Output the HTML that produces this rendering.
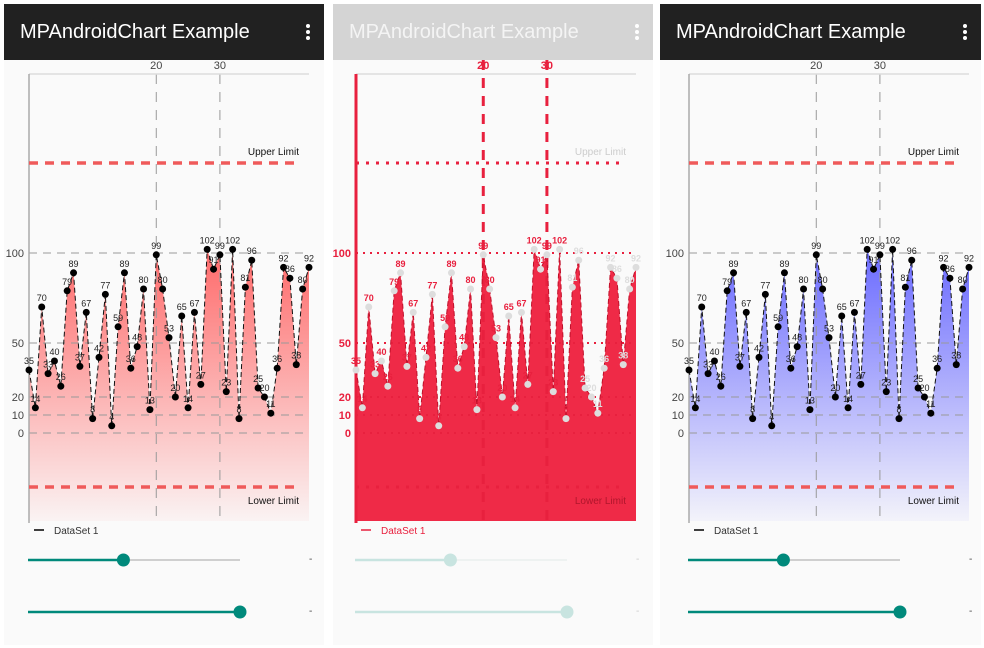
<!DOCTYPE html>
<html><head><meta charset="utf-8">
<style>
body{margin:0;background:#fff;width:984px;height:648px;overflow:hidden;font-family:"Liberation Sans",sans-serif;}
.panel{position:absolute;top:4px;width:320px;height:641px;background:#fafafa;}
.bar{position:absolute;left:0;top:0;width:100%;height:56px;}
.bar .t{position:absolute;left:16px;top:17px;font-size:20px;color:#fff;}
.bar .m{position:absolute;right:14px;top:20px;width:4px;}
.bar .m i{display:block;width:4px;height:4px;border-radius:2px;background:#fff;margin-bottom:2px;}
svg{position:absolute;left:0;top:0;}
</style></head><body>
<div class="panel" style="left:4px">
 <div class="bar" style="background:#212121"><span class="t">MPAndroidChart Example</span><span class="m"><i></i><i></i><i></i></span></div>
</div>
<div class="panel" style="left:333px">
 <div class="bar" style="background:#d4d4d4"><span class="t" style="color:#f4f4f4">MPAndroidChart Example</span><span class="m"><i></i><i></i><i></i></span></div>
</div>
<div class="panel" style="left:660px;width:321px">
 <div class="bar" style="background:#212121"><span class="t">MPAndroidChart Example</span><span class="m"><i></i><i></i><i></i></span></div>
</div>
<svg id="s" width="984" height="648"></svg>
<script>
const values=[35,14,70,33,40,26,79,89,37,67,8,42,77,4,59,89,36,48,80,13,99,80,53,20,65,14,67,27,102,91,99,23,102,8,81,96,25,20,11,36,92,86,38,80,92];
const yTicks=[0,10,20,50,100];
const xTicks=[20,30];
const limits=[150,-30];
const limitLabels=["Upper Limit","Lower Limit"];
const NS="http://www.w3.org/2000/svg";
const svg=document.getElementById('s');
function el(t,a,p){const e=document.createElementNS(NS,t);for(const k in a)e.setAttribute(k,a[k]);(p||svg).appendChild(e);return e;}
const defs=el('defs',{});
function grad(id,c){const g=el('linearGradient',{id:id,x1:0,y1:0,x2:0,y2:1},defs);
 el('stop',{offset:'0','stop-color':c,'stop-opacity':1},g);el('stop',{offset:'1','stop-color':c,'stop-opacity':0.05},g);}
grad('gr','#ff5a5a');grad('gb','#5a5aff');
function chart(x0,mode){
 const left=x0,right=x0+280,top=74,bottom=521;
 const xs=i=>left+i*(280/44), ys=v=>433-1.8*v;
 const g=el('g',{});
 
 
 const red=mode==='mid';
 // fill
 let d='M'+xs(0)+','+bottom;values.forEach((v,i)=>d+=' L'+xs(i)+','+ys(v));d+=' L'+xs(values.length-1)+','+bottom+' Z';
 const fill=el('path',{d:d,fill:red?'#ee1f3d':(mode==='l'?'url(#gr)':'url(#gb)'),opacity:red?0.95:0.9},g);
 
 if(!red){ // fade region under fill to bottom
  const bg=el('rect',{x:left,y:ys(0),width:280,height:bottom-ys(0),fill:mode==='l'?'url(#gr)':'url(#gb)',opacity:0},g);}
 // grid
 yTicks.forEach(t=>{
  const l=el('line',{x1:left,x2:right,y1:ys(t),y2:ys(t),stroke:red?'#e8203e':'#999','stroke-width':red?2:1,'stroke-dasharray':red?'2,5':'8,6'},g);
  
  const tx=el('text',{x:left-5,y:ys(t)+4,'text-anchor':'end','font-size':11,fill:red?'#e8203e':'#444','font-weight':red?'bold':'normal'},g);tx.textContent=t;
  
 });
 xTicks.forEach(t=>{
  const l=el('line',{x1:xs(t),x2:xs(t),y1:red?60:top,y2:bottom,stroke:red?'#e8203e':'#999','stroke-width':red?3:1,'stroke-dasharray':'10,8'},g);
  
  const tx=el('text',{x:xs(t),y:69,'text-anchor':'middle','font-size':11,fill:red?'#e8203e':'#444','font-weight':red?'bold':'normal'},g);tx.textContent=t;
  
 });
 el('line',{x1:left,x2:right,y1:top,y2:top,stroke:'#ddd','stroke-width':1.5},g);
 const ax=el('line',{x1:left,x2:left,y1:top,y2:bottom+2,stroke:red?'#e8203e':'#aaa','stroke-width':red?3:1.5},g);
 
 limits.forEach((v,k)=>{
  const l=el('line',{x1:left,x2:right-10,y1:ys(v),y2:ys(v),stroke:red?'#e8203e':'#ef5a5a','stroke-width':red?3:3.5,'stroke-dasharray':red?'3,7':'9,7'},g);
  
  const tx=el('text',{x:right-10,y:k?ys(v)+17:ys(v)-8,'text-anchor':'end','font-size':10,fill:red?(k?'#b0162c':'#ccc'):'#111'},g);tx.textContent=limitLabels[k];
  
 });
 let ld='';values.forEach((v,i)=>ld+=(i?' L':'M')+xs(i)+','+ys(v));
 const line=el('path',{d:ld,fill:'none',stroke:red?'#c0102a':'#111','stroke-width':1,'stroke-dasharray':'5,3'},g);
 
 values.forEach((v,i)=>{
  const c=el('circle',{cx:xs(i),cy:ys(v),r:3.5,fill:red?'#ddd':'#000'},g);
  
  const tx=el('text',{x:xs(i),y:ys(v)-6,'text-anchor':'middle','font-size':9,fill:red?(i>33?'#ddd':'#e8203e'):'#222','font-weight':red?'bold':'normal'},g);tx.textContent=v;
  
 });
 // legend
 const lg=el('line',{x1:left+5,x2:left+15,y1:530,y2:530,stroke:red?'#e8203e':'#000','stroke-width':1.5},g);
 
 const lt=el('text',{x:left+25,y:534,'font-size':10,fill:red?'#e8203e':'#333'},g);lt.textContent='DataSet 1';
 
 // sliders
 [[560,0.45],[612,1]].forEach((s,k)=>{
  const sx=left-1,w=212,c=red?'#c8e4e0':'#00897b';
  el('line',{x1:sx,x2:sx+w,y1:s[0],y2:s[0],stroke:red?'#eef2f1':'#cfcfcf','stroke-width':2},g);
  el('line',{x1:sx,x2:sx+w*s[1],y1:s[0],y2:s[0],stroke:c,'stroke-width':2.5},g);
  const th=el('circle',{cx:sx+w*s[1],cy:s[0],r:6.5,fill:c},g);
  
  const dt=el('text',{x:left+280,y:s[0]+2,'font-size':10,fill:red?'#ccc':'#444'},g);dt.textContent='-';
 });
}
chart(29,'l');chart(356,'mid');chart(689,'r');
</script>
</body></html>
